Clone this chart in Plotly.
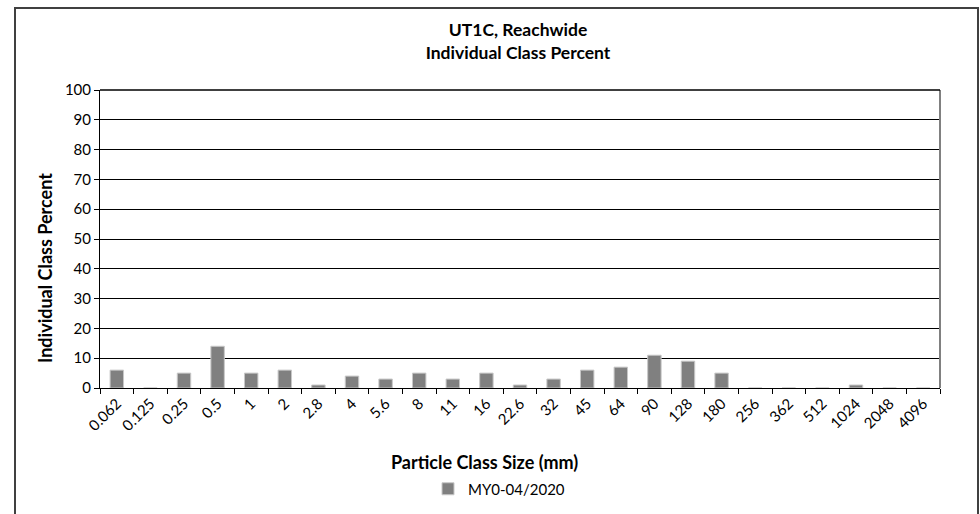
import plotly.graph_objects as go

categories = ["0.062", "0.125", "0.25", "0.5", "1", "2", "2.8", "4", "5.6", "8", "11", "16",
              "22.6", "32", "45", "64", "90", "128", "180", "256", "362", "512", "1024", "2048", "4096"]
values = [6, 0, 5, 14, 5, 6, 1, 4, 3, 5, 3, 5, 1, 3, 6, 7, 11, 9, 5, 0, 0, 0, 1, 0, 0]
series_name = "MY0-04/2020"
y_ticks = list(range(0, 101, 10))

FONT = "Lato, 'Open Sans', sans-serif"
W, H = 980, 514
L, R, T, B = 100, 40, 90, 126
pw, ph = W - L - R, H - T - B

def px_x(x):
    return (x - L) / pw

def px_y(y):
    return (H - B - y) / ph

fig = go.Figure()
fig.add_trace(go.Bar(
    x=categories, y=values, name=series_name,
    marker=dict(color="#808080", line=dict(color="#c8c8c8", width=1)),
    showlegend=True,
))

fig.update_layout(
    width=W, height=H,
    margin=dict(l=L, r=R, t=T, b=B, autoexpand=False),
    paper_bgcolor="white", plot_bgcolor="white",
    font=dict(family=FONT, size=15, color="#000000"),
    bargap=0.6,
    title=dict(text="<b>UT1C, Reachwide</b><br><b>Individual Class Percent</b>",
               x=px_x(518), xref="paper", xanchor="center",
               y=1 - 36 / H, yanchor="middle",
               font=dict(family=FONT, size=17.5, color="#000000")),
    showlegend=True,
    legend=dict(orientation="h", x=px_x(428), y=px_y(489), xanchor="left", yanchor="middle",
                font=dict(family=FONT, size=15), bgcolor="rgba(0,0,0,0)",
                itemwidth=30, tracegroupgap=0),
    xaxis=dict(
        type="category", tickangle=-45, tickson="boundaries", automargin=False,
        ticks="outside", ticklen=5, tickcolor="#000", tickwidth=1,
        showline=True, linecolor="#000", linewidth=1,
        showgrid=False, tickfont=dict(family=FONT, size=15),
    ),
    yaxis=dict(
        range=[0, 100], tickvals=y_ticks, ticks="outside", ticklen=5, tickcolor="#000",
        showline=True, linecolor="#000", linewidth=1, automargin=False,
        showgrid=True, gridcolor="#000", gridwidth=1,
        tickfont=dict(family=FONT, size=15), zeroline=False,
    ),
    annotations=[
        dict(text="<b>Particle Class Size (mm)</b>", xref="paper", yref="paper",
             x=px_x(484), y=px_y(462), showarrow=False, xanchor="center", yanchor="middle",
             font=dict(family=FONT, size=18)),
        dict(text="<b>Individual Class Percent</b>", xref="paper", yref="paper",
             x=px_x(45), y=px_y(268), showarrow=False, textangle=-90,
             xanchor="center", yanchor="middle", font=dict(family=FONT, size=18)),
    ],
    shapes=[
        dict(type="rect", xref="paper", yref="paper", x0=px_x(15), x1=px_x(978),
             y0=px_y(530), y1=px_y(8), line=dict(color="#404040", width=2), layer="below"),
        dict(type="line", xref="paper", yref="paper", x0=1, x1=1, y0=0, y1=1,
             line=dict(color="#808080", width=2)),
        dict(type="line", xref="paper", yref="paper", x0=0, x1=1, y0=1, y1=1,
             line=dict(color="#000", width=1.5)),
    ],
)

fig.write_html("out.html", config={"displayModeBar": False},
               post_script="document.body.style.margin='0';document.body.style.overflow='hidden';")
